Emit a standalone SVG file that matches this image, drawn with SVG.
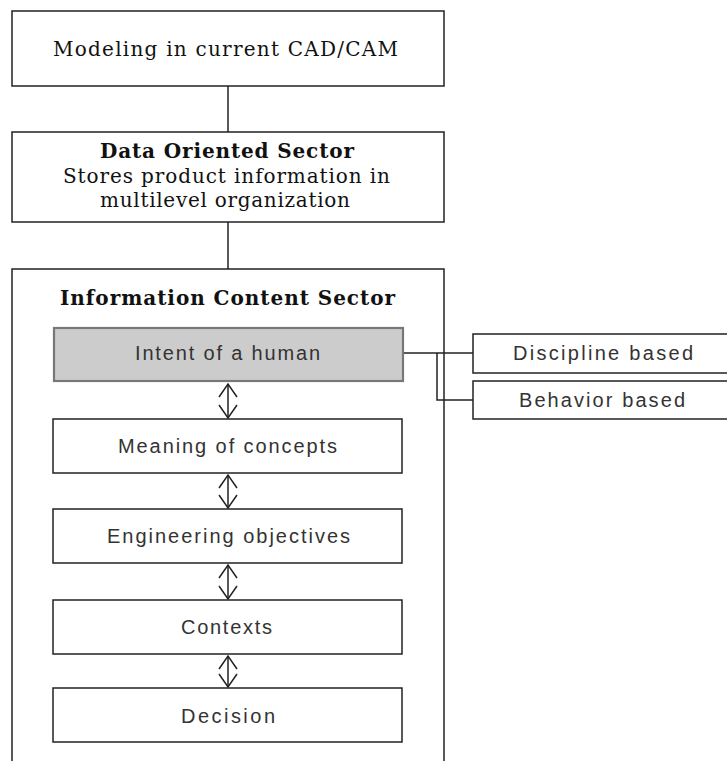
<svg xmlns="http://www.w3.org/2000/svg" width="727" height="761" viewBox="0 0 727 761">
<defs>
<style>
.box{fill:#fff;stroke:#222;stroke-width:1.5}
.gray{fill:#cccccc;stroke:#777;stroke-width:2.2}
.serif{font-family:"DejaVu Serif","Liberation Serif",serif;font-size:20px;fill:#111;text-anchor:middle}
.bold{font-weight:bold}
.sans{font-family:"Liberation Sans","DejaVu Sans",sans-serif;font-size:20px;fill:#333;text-anchor:middle}
.line{fill:none;stroke:#222;stroke-width:1.5}
.arr{fill:none;stroke:#222;stroke-width:1.5;marker-start:url(#chev);marker-end:url(#chev)}
</style>
<marker id="chev" viewBox="-15 -10 16 20" refX="0" refY="0" markerWidth="16" markerHeight="20" markerUnits="userSpaceOnUse" orient="auto-start-reverse" overflow="visible">
<path d="M-13,-9 L0,0 L-13,9" fill="none" stroke="#222" stroke-width="1.5"/>
</marker>
</defs>
<g id="modeling">
<rect class="box" x="12" y="11" width="432" height="75"/>
<text class="serif" x="225.5" y="56" textLength="345" lengthAdjust="spacing">Modeling in current CAD/CAM</text>
</g>
<g id="data-oriented">
<rect class="box" x="12" y="132" width="432" height="90"/>
<text class="serif bold" x="227" y="158" textLength="254" lengthAdjust="spacing">Data Oriented Sector</text>
<text class="serif" x="226.5" y="183" textLength="327" lengthAdjust="spacing">Stores product information in</text>
<text class="serif" x="225" y="207" textLength="250" lengthAdjust="spacing">multilevel organization</text>
</g>
<g id="information-content">
<rect class="box" x="12" y="269" width="432" height="520"/>
<text class="serif bold" x="227.5" y="305" textLength="335" lengthAdjust="spacing">Information Content Sector</text>
</g>
<g id="intent">
<rect class="gray" x="54" y="328" width="349" height="53"/>
<text class="sans" x="227.5" y="360" textLength="185" lengthAdjust="spacing">Intent of a human</text>
</g>
<g id="meaning">
<rect class="box" x="53" y="419" width="349" height="54"/>
<text class="sans" x="227.5" y="453" textLength="219" lengthAdjust="spacing">Meaning of concepts</text>
</g>
<g id="engineering">
<rect class="box" x="53" y="509" width="349" height="54"/>
<text class="sans" x="228.5" y="543" textLength="243" lengthAdjust="spacing">Engineering objectives</text>
</g>
<g id="contexts">
<rect class="box" x="53" y="600" width="349" height="54"/>
<text class="sans" x="226.5" y="634" textLength="91" lengthAdjust="spacing">Contexts</text>
</g>
<g id="decision">
<rect class="box" x="53" y="688" width="349" height="54"/>
<text class="sans" x="228" y="723" textLength="94" lengthAdjust="spacing">Decision</text>
</g>
<g id="discipline">
<rect class="box" x="473" y="334" width="270" height="39"/>
<text class="sans" x="603" y="360" textLength="180" lengthAdjust="spacing">Discipline based</text>
</g>
<g id="behavior">
<rect class="box" x="473" y="381" width="270" height="38"/>
<text class="sans" x="602" y="407" textLength="166" lengthAdjust="spacing">Behavior based</text>
</g>
<g id="connectors">
<path class="line" d="M228,86 V132"/>
<path class="line" d="M228,222 V269"/>
<path class="line" d="M404,353 H473"/>
<path class="line" d="M437,353 V400 H473"/>
<path class="arr" d="M228,384 V418"/>
<path class="arr" d="M228,475 V508"/>
<path class="arr" d="M228,565 V599"/>
<path class="arr" d="M228,656 V687"/>
</g>
</svg>
